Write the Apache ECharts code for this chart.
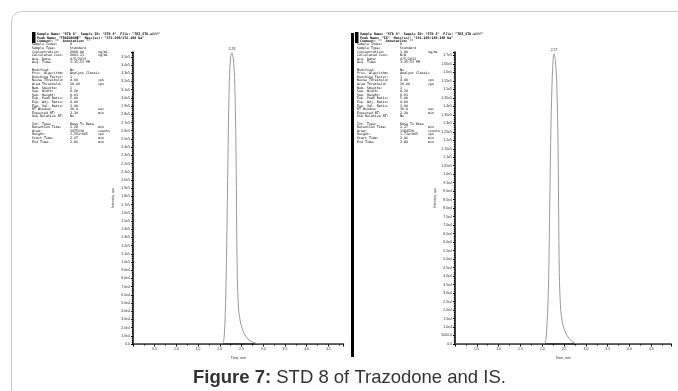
<!DOCTYPE html>
<html><head><meta charset="utf-8">
<script src="https://cdn.jsdelivr.net/npm/echarts@6/dist/echarts.min.js"></script>
<style>html,body{margin:0;padding:0;background:#fff}#c{width:678px;height:391px}</style>
</head><body><div id="c"></div>
<script>
// ---- chromatogram data ----
const leftTime = [0, 2.00, 2.05, 2.10, 2.14, 2.17, 2.20, 2.22, 2.25, 2.28, 2.31, 2.34, 2.37, 2.40, 2.43, 2.47, 2.52, 2.58, 2.65, 2.75, 2.85, 2.95, 4.85];
const leftIntensity = [0, 0, 0, 8000, 65000, 160000, 270000, 320000, 350000, 355000, 348000, 325000, 250000, 90000, 45000, 28000, 18000, 11000, 6000, 2500, 800, 0, 0];
const rightTime = [0, 2.00, 2.04, 2.09, 2.14, 2.17, 2.20, 2.23, 2.25, 2.27, 2.30, 2.33, 2.36, 2.39, 2.42, 2.46, 2.51, 2.57, 2.64, 2.72, 2.82, 4.95];
const rightIntensity = [0, 0, 0, 4000, 32000, 80000, 130000, 158000, 168000, 171000, 167000, 155000, 120000, 42000, 21000, 13000, 8000, 5000, 2500, 800, 0, 0];
const leftPeakLabel = '2.28';
const rightPeakLabel = '2.27';
const xAxisTitle = 'Time, min';
const yAxisTitle = 'Intensity, cps';
const leftXMax = 4.85, rightXMax = 4.95;
const leftYMax = 356000, rightYMax = 172000;
const leftYStep = 10000, rightYStep = 5000;

// ---- header texts ----
const leftHeadTop = [
  'Sample Name: "STD 8"  Sample ID: "STD 8"  File: "TRZ_STD.wiff"',
  'Peak Name: "TRAZODONE"  Mass(es): "372.200/176.100 Da"',
  'Comment: ""  Annotation: ""'
];
const rightHeadTop = [
  'Sample Name: "STD 8"  Sample ID: "STD 8"  File: "TRZ_STD.wiff"',
  'Peak Name: "IS"  Mass(es): "336.100/180.100 Da"',
  'Comment: ""  Annotation: ""'
];
const leftRows = [
  ['Sample Index:', '8', ''], ['Sample Type:', 'Standard', ''],
  ['Concentration:', '2000.00', 'ng/mL'], ['Calculated Conc:', '2003.21', 'ng/mL'],
  ['Acq. Date:', '4/5/2013', ''], ['Acq. Time:', '3:15:53 PM', ''], null,
  ['Modified:', 'No', ''], ['Proc. Algorithm:', 'Analyst Classic', ''],
  ['Bunching Factor:', '1', ''], ['Noise Threshold:', '4.00', 'cps'],
  ['Area Threshold:', '20.00', 'cps'], ['Num. Smooths:', '1', ''],
  ['Sep. Width:', '0.20', ''], ['Sep. Height:', '0.01', ''],
  ['Exp. Peak Ratio:', '5.00', ''], ['Exp. Adj. Ratio:', '4.00', ''],
  ['Exp. Val. Ratio:', '3.00', ''], ['RT Window:', '30.0', 'sec'],
  ['Expected RT:', '2.30', 'min'], ['Use Relative RT:', 'No', ''], null,
  ['Int. Type:', 'Base To Base', ''], ['Retention Time:', '2.28', 'min'],
  ['Area:', '2475630', 'counts'], ['Height:', '3.55e+005', 'cps'],
  ['Start Time:', '2.07', 'min'], ['End Time:', '2.86', 'min']
];
const rightRows = [
  ['Sample Index:', '8', ''], ['Sample Type:', 'Standard', ''],
  ['Concentration:', '1.00', 'ng/mL'], ['Calculated Conc:', 'N/A', ''],
  ['Acq. Date:', '4/5/2013', ''], ['Acq. Time:', '3:15:53 PM', ''], null,
  ['Modified:', 'No', ''], ['Proc. Algorithm:', 'Analyst Classic', ''],
  ['Bunching Factor:', '1', ''], ['Noise Threshold:', '4.00', 'cps'],
  ['Area Threshold:', '20.00', 'cps'], ['Num. Smooths:', '1', ''],
  ['Sep. Width:', '0.20', ''], ['Sep. Height:', '0.01', ''],
  ['Exp. Peak Ratio:', '5.00', ''], ['Exp. Adj. Ratio:', '4.00', ''],
  ['Exp. Val. Ratio:', '3.00', ''], ['RT Window:', '30.0', 'sec'],
  ['Expected RT:', '2.30', 'min'], ['Use Relative RT:', 'No', ''], null,
  ['Int. Type:', 'Base To Base', ''], ['Retention Time:', '2.27', 'min'],
  ['Area:', '1184520', 'counts'], ['Height:', '1.71e+005', 'cps'],
  ['Start Time:', '2.06', 'min'], ['End Time:', '2.80', 'min']
];
const captionBold = 'Figure 7:';
const captionText = ' STD 8 of Trazodone and IS.';

// ---- build ----
const chart = echarts.init(document.getElementById('c'), null, {renderer: 'canvas'});
const HF = '3.3px "DejaVu Sans Mono", monospace';
const TF = '"Liberation Sans", Arial, sans-serif';

function sci(v, dec) {
  if (v === 0) return '0.0';
  const e = Math.floor(Math.log10(v) + 1e-9);
  let m = v / Math.pow(10, e);
  let s = m.toFixed(dec);
  if (dec > 1) { s = String(parseFloat(s)); if (s.indexOf('.') < 0) s += '.0'; }
  return s + 'e' + e;
}
function leftFmt(v) { return sci(v, 1); }
function rightFmt(v) { if (v === 0) return '0.0'; if (v < 10000) return v.toFixed(1); return sci(v, 2); }

const graphics = [];
graphics.push({type: 'rect', shape: {x: 11.5, y: 11.5, width: 720, height: 440, r: 10}, style: {fill: 'none', stroke: '#c8c8c8', lineWidth: 1}, silent: true});
// left header
graphics.push({type: 'rect', shape: {x: 32, y: 32, width: 3.5, height: 11}, style: {fill: '#000'}});
leftHeadTop.forEach((t, i) => graphics.push({type: 'text', style: {text: t, x: 37, y: 34.3 + i * 3.4, font: 'bold ' + HF, fill: '#000', verticalAlign: 'middle'}}));
leftRows.forEach((r, i) => {
  if (!r) return;
  const y = 44.6 + i * 3.6;
  graphics.push({type: 'text', style: {text: r[0], x: 32, y: y, font: HF, fill: '#000', verticalAlign: 'middle'}});
  graphics.push({type: 'text', style: {text: r[1], x: 70, y: y, font: HF, fill: '#000', verticalAlign: 'middle'}});
  if (r[2]) graphics.push({type: 'text', style: {text: r[2], x: 98, y: y, font: HF, fill: '#000', verticalAlign: 'middle'}});
});
// right header
graphics.push({type: 'rect', shape: {x: 351, y: 33, width: 3, height: 324}, style: {fill: '#000'}});
graphics.push({type: 'rect', shape: {x: 355, y: 32, width: 3.5, height: 11}, style: {fill: '#000'}});
rightHeadTop.forEach((t, i) => graphics.push({type: 'text', style: {text: t, x: 360, y: 34.3 + i * 3.4, font: 'bold ' + HF, fill: '#000', verticalAlign: 'middle'}}));
rightRows.forEach((r, i) => {
  if (!r) return;
  const y = 44.6 + i * 3.6;
  graphics.push({type: 'text', style: {text: r[0], x: 357, y: y, font: HF, fill: '#000', verticalAlign: 'middle'}});
  graphics.push({type: 'text', style: {text: r[1], x: 400, y: y, font: HF, fill: '#000', verticalAlign: 'middle'}});
  if (r[2]) graphics.push({type: 'text', style: {text: r[2], x: 428, y: y, font: HF, fill: '#000', verticalAlign: 'middle'}});
});
// caption
graphics.push({type: 'text', left: 193, top: 368, style: {
  text: '{b|' + captionBold + '}{n|' + captionText + '}',
  rich: {b: {fontFamily: TF, fontSize: 18.5, fontWeight: 'bold', fill: '#333'}, n: {fontFamily: TF, fontSize: 18.5, fill: '#333'}}
}});

function xAx(gi, max) {
  return {
    type: 'value', gridIndex: gi, min: 0, max: max, interval: 0.5,
    name: xAxisTitle, nameLocation: 'middle', nameGap: 9,
    nameTextStyle: {fontSize: 3.5, color: '#333', fontFamily: TF},
    axisLine: {lineStyle: {color: '#000', width: 1.5}},
    axisTick: {length: 2.5, lineStyle: {color: '#000', width: 1}},
    minorTick: {show: true, splitNumber: 2, length: 1.5, lineStyle: {color: '#000', width: 1}},
    axisLabel: {fontSize: 3.5, color: '#333', margin: 3, showMinLabel: false, showMaxLabel: false, formatter: v => v.toFixed(1), fontFamily: TF},
    splitLine: {show: false}, minorSplitLine: {show: false}
  };
}
function yAx(gi, max, step, fmt) {
  return {
    type: 'value', gridIndex: gi, min: 0, max: max, interval: step,
    name: yAxisTitle, nameLocation: 'middle', nameGap: 18, nameRotate: 90,
    nameTextStyle: {fontSize: 3.5, color: '#333', fontFamily: TF},
    axisLine: {show: true, lineStyle: {color: '#000', width: 1.5}},
    axisTick: {show: true, length: 2, lineStyle: {color: '#000', width: 1}},
    minorTick: {show: true, splitNumber: 4, length: 1.2, lineStyle: {color: '#000', width: 0.8}},
    axisLabel: {fontSize: 3.5, color: '#333', margin: 3, showMaxLabel: false, formatter: fmt, fontFamily: TF},
    splitLine: {show: false}, minorSplitLine: {show: false}
  };
}
function peakSeries(gi, t, v, lbl) {
  return {
    type: 'line', xAxisIndex: gi, yAxisIndex: gi, showSymbol: false, smooth: 0.3,
    data: t.map((x, i) => [x, v[i]]),
    lineStyle: {color: '#9a9a9a', width: 1}, animation: false,
    markPoint: {symbol: 'circle', symbolSize: 0, data: [{type: 'max'}],
      label: {show: true, position: 'top', distance: 2, formatter: () => lbl, fontSize: 3.5, color: '#333', fontFamily: TF}}
  };
}

chart.setOption({
  animation: false,
  backgroundColor: '#fff',
  grid: [
    {left: 133, top: 52, width: 210.5, height: 292},
    {left: 455, top: 52, width: 216, height: 292}
  ],
  xAxis: [xAx(0, leftXMax), xAx(1, rightXMax)],
  yAxis: [yAx(0, leftYMax, leftYStep, leftFmt), yAx(1, rightYMax, rightYStep, rightFmt)],
  series: [peakSeries(0, leftTime, leftIntensity, leftPeakLabel), peakSeries(1, rightTime, rightIntensity, rightPeakLabel)],
  graphic: graphics
});
</script></body></html>
